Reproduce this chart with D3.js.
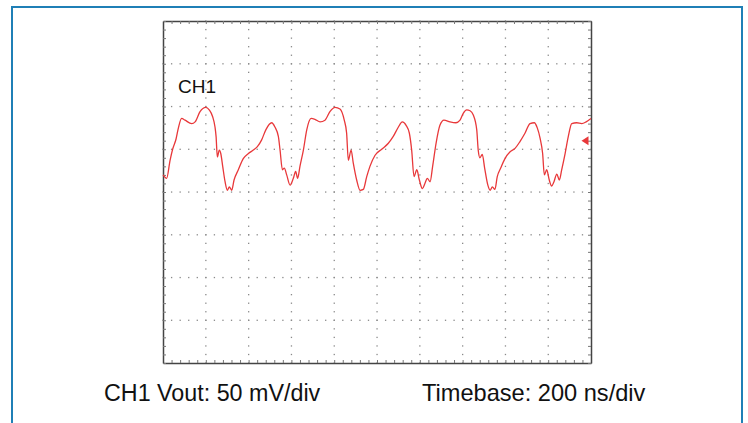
<!DOCTYPE html>
<html><head><meta charset="utf-8">
<script src="https://cdn.jsdelivr.net/npm/d3@7"></script>
<style>
html,body{margin:0;padding:0;background:#fff;}
svg{display:block;}
</style></head>
<body>
<svg id="chart" width="748" height="423"></svg>
<script>
// ---- data ----
const channelLabel = "CH1";
const captionLeft = "CH1 Vout: 50 mV/div";
const captionRight = "Timebase: 200 ns/div";
const timeDomainNs = [0, 2000];     // 10 div x 200 ns
const voltDomainMv = [-200, 200];   // 8 div x 50 mV
const markerLevelMv = 60;
const timeNs = [0,17,33,45,61,72,87,103,134,150,173,200,216,232,243,248,254,263,270,279,290,301,310,321,332,352,375,399,422,441,461,481,508,523,539,547,558,567,578,594,609,620,629,640,656,672,692,710,734,757,780,804,827,847,858,866,879,889,905,921,936,952,967,991,1022,1053,1076,1100,1118,1136,1151,1162,1173,1186,1198,1212,1224,1235,1248,1260,1276,1294,1313,1341,1369,1388,1403,1419,1435,1450,1466,1473,1481,1492,1503,1518,1529,1539,1551,1562,1578,1598,1622,1645,1668,1692,1715,1735,1749,1762,1774,1782,1793,1805,1816,1827,1840,1852,1863,1879,1894,1910,1933,1957,1977,1995,2000];
const voltMv = [20,16,37,50,62,75,86,84,80,82,94,99,96,88,76,65,41,49,45,30,12,2,6,2,14,26,39,45,49,53,61,73,81,76,65,49,26,28,20,8,16,24,16,30,49,73,86,85,82,84,94,99,97,84,69,37,49,34,14,2,3,18,30,43,50,57,65,76,82,78,69,49,18,26,14,4,10,16,12,30,57,78,84,82,81,84,92,96,95,90,73,49,40,44,28,8,2,6,3,18,28,39,47,51,59,69,80,81,75,63,45,20,26,14,7,12,21,14,26,45,65,80,81,80,82,85,86];

// ---- layout ----
const svg = d3.select("#chart");
const L = 163, T = 21, W = 428, H = 342;
const x = d3.scaleLinear().domain(timeDomainNs).range([L, L + W]);
const y = d3.scaleLinear().domain(voltDomainMv).range([T + H, T]);

// outer blue frame
svg.append("rect").attr("x", 12).attr("y", 7).attr("width", 730).attr("height", 440)
  .attr("fill", "none").attr("stroke", "#1f7fb6").attr("stroke-width", 2);

const majorT = d3.range(0, 2001, 200);
const majorV = d3.range(-200, 201, 50);
const minorT = d3.range(0, 2001, 40);
const minorV = d3.range(-200, 201, 10);

// dotted graticule
const g = svg.append("g");
majorT.slice(1, -1).forEach(t => {
  minorV.forEach(v => {
    g.append("rect").attr("x", x(t) - 0.6).attr("y", y(v) - 0.6).attr("width", 1.3).attr("height", 1.3).attr("fill", "#8a8a8a");
  });
});
majorV.slice(1, -1).forEach(v => {
  minorT.forEach(t => {
    g.append("rect").attr("x", x(t) - 0.6).attr("y", y(v) - 0.6).attr("width", 1.3).attr("height", 1.3).attr("fill", "#8a8a8a");
  });
});

// frame with inward minor ticks
function styleAxis(sel) {
  sel.selectAll("text").remove();
  sel.select(".domain").attr("stroke", "#444").attr("stroke-width", 1.5);
  sel.selectAll(".tick line").attr("stroke", "#777").attr("stroke-width", 1);
}
svg.append("g").attr("transform", `translate(0,${T + H})`)
  .call(d3.axisBottom(x).tickValues(minorT).tickSize(-3).tickSizeOuter(0).tickFormat("")).call(styleAxis);
svg.append("g").attr("transform", `translate(0,${T})`)
  .call(d3.axisTop(x).tickValues(minorT).tickSize(-3).tickSizeOuter(0).tickFormat("")).call(styleAxis);
svg.append("g").attr("transform", `translate(${L},0)`)
  .call(d3.axisLeft(y).tickValues(minorV).tickSize(-3).tickSizeOuter(0).tickFormat("")).call(styleAxis);
svg.append("g").attr("transform", `translate(${L + W},0)`)
  .call(d3.axisRight(y).tickValues(minorV).tickSize(-3).tickSizeOuter(0).tickFormat("")).call(styleAxis);

// waveform
const line = d3.line().x((d, i) => x(timeNs[i])).y((d, i) => y(voltMv[i])).curve(d3.curveMonotoneX);
svg.append("path").datum(voltMv).attr("d", line)
  .attr("fill", "none").attr("stroke", "#e8383a").attr("stroke-width", 1.3).attr("stroke-linejoin", "round");

// level marker
const my = y(markerLevelMv), mx = x(timeDomainNs[1]) - 9.5;
svg.append("path").attr("d", `M${mx},${my} L${mx + 7},${my - 4.5} L${mx + 7},${my + 4.5} Z`).attr("fill", "#e8383a");

// labels
svg.append("text").attr("x", 178).attr("y", 93).attr("font-family", "Liberation Sans, Arial, sans-serif")
  .attr("font-size", 19).attr("fill", "#111").text(channelLabel);
svg.append("text").attr("x", 104).attr("y", 401).attr("font-family", "Liberation Sans, Arial, sans-serif")
  .attr("font-size", 23.3).attr("fill", "#111").text(captionLeft);
svg.append("text").attr("x", 422).attr("y", 401).attr("font-family", "Liberation Sans, Arial, sans-serif")
  .attr("font-size", 23.6).attr("fill", "#111").text(captionRight);
</script>
</body></html>
